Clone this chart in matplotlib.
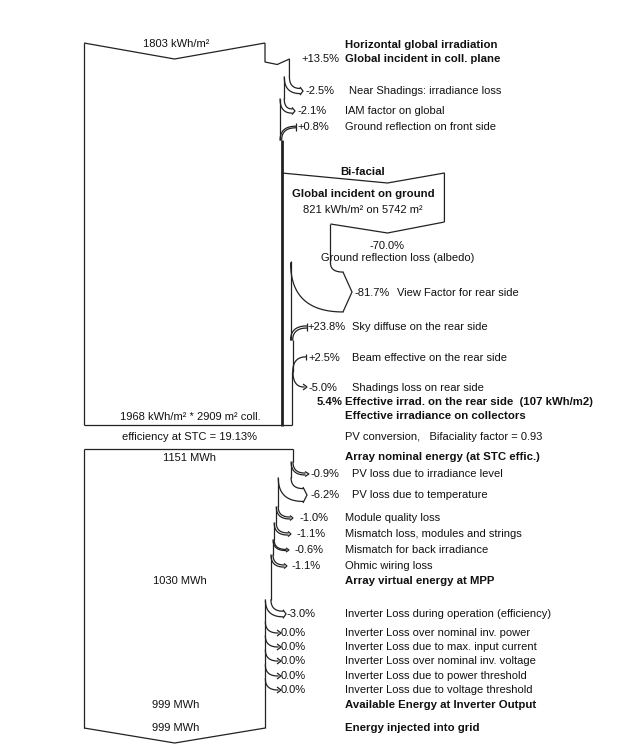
import numpy as np
import matplotlib
matplotlib.use("Agg")
import matplotlib.pyplot as plt

# ---------------- data ----------------
horiz_irr = 1803          # kWh/m2
front_pct = [13.5, -2.5, -2.1, 0.8]
front_labels = ["Global incident in coll. plane", "Near Shadings: irradiance loss",
                "IAM factor on global", "Ground reflection on front side"]
ground_irr = 821          # kWh/m2
ground_area = 5742        # m2
rear_pct = [-70.0, -81.7, 23.8, 2.5, -5.0]
rear_labels = ["Ground reflection loss (albedo)", "View Factor for rear side",
               "Sky diffuse on the rear side", "Beam effective on the rear side",
               "Shadings loss on rear side"]
rear_gain_pct = 5.4
rear_irr = 107
eff_irr = 1968
coll_area = 2909
stc_eff = 19.13
bifaciality = 0.93
nominal_energy = 1151     # MWh
array_pct = [-0.9, -6.2, -1.0, -1.1, -0.6, -1.1]
array_labels = ["PV loss due to irradiance level", "PV loss due to temperature",
                "Module quality loss", "Mismatch loss, modules and strings",
                "Mismatch for back irradiance", "Ohmic wiring loss"]
mpp_energy = 1030
inv_pct = [-3.0, 0.0, 0.0, 0.0, 0.0, 0.0]
inv_labels = ["Inverter Loss during operation (efficiency)",
              "Inverter Loss over nominal inv. power",
              "Inverter Loss due to max. input current",
              "Inverter Loss over nominal inv. voltage",
              "Inverter Loss due to power threshold",
              "Inverter Loss due to voltage threshold"]
inv_out_energy = 999
grid_energy = 999

# ---------------- layout (pixels) ----------------
FONT = "Liberation Sans"
FS = 8.0
FSB = 8.2
LC = "#222222"
LW = 0.9
TC = "#111111"
X0 = 84                   # left edge of the flow
W_TOP = 181               # width of the 1803 kWh/m2 arrow
W_LOW = 209               # width of the 1151 MWh box
LABEL_X = 345

fig = plt.figure(figsize=(6.44, 7.5), dpi=100)
ax = fig.add_axes([0, 0, 1, 1])
ax.set_xlim(0, 644)
ax.set_ylim(750, 0)
ax.axis("off")


def line(xs, ys, lw=LW):
    ax.plot(xs, ys, color=LC, lw=lw, solid_capstyle="butt", solid_joinstyle="miter")


def bez(p0, p1, p2, lw=LW):
    t = np.linspace(0, 1, 30)[:, None]
    p0, p1, p2 = map(np.array, (p0, p1, p2))
    p = (1 - t) ** 2 * p0 + 2 * (1 - t) * t * p1 + t ** 2 * p2
    ax.plot(p[:, 0], p[:, 1], color=LC, lw=lw)


def txt(x, y, s, ha="left", bold=False):
    ax.text(x, y, s, ha=ha, va="center", fontsize=FSB if bold else FS, family=FONT,
            fontweight="bold" if bold else "normal", color=TC)


def loss_arrow(x_old, x_new, y_s, y_t, x_e, head=4, flare=2):
    w = x_old - x_new
    if w < 0.8:
        bez((x_old, y_s), (x_old, y_t), (x_e, y_t))
        line([x_e - 1, x_e + head, x_e - 1], [y_t - 3, y_t, y_t + 3])
        return
    bez((x_old, y_s), (x_old, y_t - w / 2), (x_e, y_t - w / 2))
    bez((x_new, y_s), (x_new, y_t + w / 2), (x_e, y_t + w / 2))
    line([x_e, x_e + head, x_e], [y_t - w / 2 - flare, y_t, y_t + w / 2 + flare])


def gain_arrow(x_old, x_new, y_t, x_e, y_j):
    w = x_new - x_old
    bez((x_e, y_t - w / 2), (x_old, y_t - w / 2), (x_old, y_j))
    if w >= 0.8:
        bez((x_e, y_t + w / 2), (x_new, y_t + w / 2), (x_new, y_j))
    line([x_e, x_e], [y_t - w / 2 - 3, y_t + w / 2 + 3])


# ================= upper part : irradiation =================
s_up = W_TOP / horiz_irr
x_top_r = X0 + W_TOP
y_top = 43
# top arrow (V shaped)
line([X0, X0 + W_TOP / 2, x_top_r], [y_top, y_top + 16, y_top])
txt(X0 + W_TOP / 2 + 2, 44, f"{horiz_irr} kWh/m²", ha="center")
txt(LABEL_X, 45, "Horizontal global irradiation", bold=True)

front_y = [59, 91, 111, 127]
front_ys = [None, 77, 99, None]
front_xe = [None, 300, 292, 296]
front_pct_x = [339, 306, 298, 297]

val = horiz_irr
x_cur = x_top_r
y_cur = y_top
for i, p in enumerate(front_pct):
    new_val = val * (1 + p / 100)
    x_new = X0 + new_val * s_up
    lab = f"{p:+.1f}%"
    if i == 0:
        # incoming gain notch
        line([x_cur, x_cur, (x_cur + x_new) / 2, x_new, x_new],
             [y_cur, 62, 64.5, 59, 77])
        txt(front_pct_x[i], front_y[i], lab, ha="right")
        txt(LABEL_X, front_y[i], front_labels[i], bold=True)
        y_cur = 77
    elif p < 0:
        line([x_cur, x_cur], [y_cur, front_ys[i]])
        loss_arrow(x_cur, x_new, front_ys[i], front_y[i], front_xe[i], head=3, flare=1.5)
        txt(front_pct_x[i], front_y[i], lab)
        txt(LABEL_X + (4 if i == 1 else 0), front_y[i], front_labels[i])
        y_cur = front_ys[i]
    else:
        line([x_cur, x_cur], [y_cur, 140])
        gain_arrow(x_cur, x_new, front_y[i], front_xe[i], 140)
        txt(front_pct_x[i], front_y[i], lab)
        txt(LABEL_X, front_y[i], front_labels[i])
        y_cur = 140
    val = new_val
    x_cur = x_new
x_front = x_cur
front_width = x_front - X0

# front trunk (thick) down to the box bottom
Y_BOX1 = 425
line([x_front, x_front], [140, Y_BOX1 + 1], lw=2.0)
# left edge of upper box
line([X0, X0], [y_top, Y_BOX1])

# ---- bifacial contribution ----
front_energy = eff_irr * coll_area
ground_energy = ground_irr * ground_area
w_ground = front_width * ground_energy / front_energy
x_g_r = x_front + w_ground
x_alb = x_front + w_ground * (1 + rear_pct[0] / 100)
x_vtip = (x_alb + x_g_r) / 2
y_bt = 173
line([x_front, x_vtip, x_g_r, x_g_r], [y_bt, y_bt + 10, y_bt, 222])
txt((x_front + x_g_r) / 2, 172, "Bi-facial", ha="center", bold=True)
txt((x_front + x_g_r) / 2, 194, "Global incident on ground", ha="center", bold=True)
txt((x_front + x_g_r) / 2, 210, f"{ground_irr} kWh/m² on {ground_area} m²", ha="center")

# -70% albedo loss : V shaped bottom
line([x_g_r, x_vtip, x_alb], [222, 233, 224])
txt(x_vtip, 246, f"{rear_pct[0]:.1f}%", ha="center")
txt(398, 258, rear_labels[0], ha="center")

# -81.7% view factor loss
x_vf = x_front + (x_alb - x_front) * (1 + rear_pct[1] / 100)
line([x_alb, x_alb], [224, 263])
loss_arrow(x_alb, x_vf, 263, 292, 343, head=9, flare=0)
txt(355, 293, f"{rear_pct[1]:.1f}%")
txt(397, 293, rear_labels[1])

# rear gains and losses
x_cur = x_vf
w_rear = x_vf - x_front
line([x_cur, x_cur], [261, 340])
# +23.8 sky diffuse
x_new = x_cur + w_rear * rear_pct[2] / 100
gain_arrow(x_cur, x_new, 327, 307, 340)
txt(307, 327, f"{rear_pct[2]:+.1f}%")
txt(352, 327, rear_labels[2])
w_rear = x_new - x_front
x_cur = x_new
line([x_cur, x_cur], [340, 372])
# +2.5 beam
x_new = x_cur + w_rear * rear_pct[3] / 100
gain_arrow(x_cur, x_new, 357, 306, 372)
txt(308, 358, f"{rear_pct[3]:+.1f}%")
txt(352, 358, rear_labels[3])
w_rear = x_new - x_front
x_cur = x_new
# -5.0 shading
x_new = x_cur + w_rear * rear_pct[4] / 100
loss_arrow(x_cur, x_new, 372, 387, 304, head=3, flare=1.5)
txt(309, 388, f"{rear_pct[4]:.1f}%")
txt(352, 388, rear_labels[4])
x_rear = x_new
line([x_rear, x_rear], [372, Y_BOX1])
line([X0, x_rear], [Y_BOX1, Y_BOX1])

txt(342, 402, f"{rear_gain_pct:.1f}%", ha="right", bold=True)
txt(LABEL_X, 402, f"Effective irrad. on the rear side  ({rear_irr} kWh/m2)", bold=True)
txt(LABEL_X, 416, "Effective irradiance on collectors", bold=True)
txt(190, 417, f"{eff_irr} kWh/m² * {coll_area} m² coll.", ha="center")
txt(190, 437, f"efficiency at STC = {stc_eff:.2f}%", ha="center")
txt(LABEL_X, 437, f"PV conversion,   Bifaciality factor = {bifaciality:.2f}")

# ================= lower part : energy =================
s_lo = W_LOW / nominal_energy
Y_BOX2 = 449
x_cur = X0 + W_LOW
line([X0, x_cur], [Y_BOX2, Y_BOX2])
txt(190, 458, f"{nominal_energy} MWh", ha="center")
txt(LABEL_X, 457, "Array nominal energy (at STC effic.)", bold=True)

array_y = [474, 495, 518, 534, 550, 566]
array_ys = [462, 478, 507, 523, 540, 555]
array_xe = [305, 303, 290, 288, 286, 284]
array_pct_x = [311, 311, 300, 297, 295, 292]
array_lab_x = [352, 352, 345, 345, 345, 345]
val = nominal_energy
y_cur = Y_BOX2
for i, p in enumerate(array_pct):
    new_val = val * (1 + p / 100)
    x_new = X0 + new_val * s_lo
    line([x_cur, x_cur], [y_cur, array_ys[i]])
    loss_arrow(x_cur, x_new, array_ys[i], array_y[i], array_xe[i],
               head=4 if i < 2 else 3, flare=1.5)
    txt(array_pct_x[i], array_y[i], f"{p:.1f}%")
    txt(array_lab_x[i], array_y[i], array_labels[i])
    val, x_cur, y_cur = new_val, x_new, array_ys[i]

txt(180, 581, f"{mpp_energy} MWh", ha="center")
txt(LABEL_X, 581, "Array virtual energy at MPP", bold=True)

inv_y = [614, 633, 647, 661, 676, 690]
inv_ys = [600, 622, 636, 650, 665, 679]
inv_xe = [283, 278, 278, 278, 278, 278]
inv_pct_x = [287, 281, 281, 281, 281, 281]
for i, p in enumerate(inv_pct):
    new_val = val * (1 + p / 100)
    x_new = X0 + new_val * s_lo
    line([x_cur, x_cur], [y_cur, inv_ys[i]])
    loss_arrow(x_cur, x_new, inv_ys[i], inv_y[i], inv_xe[i], head=3, flare=1.5)
    lab = f"{p:.1f}%" if p != 0 else "0.0%"
    txt(inv_pct_x[i], inv_y[i], lab)
    txt(LABEL_X, inv_y[i], inv_labels[i])
    val, x_cur, y_cur = new_val, x_new, inv_ys[i]

Y_BOT = 728
line([x_cur, x_cur], [y_cur, Y_BOT])
line([X0, X0], [Y_BOX2, Y_BOT])
line([X0, (X0 + x_cur) / 2, x_cur], [Y_BOT, Y_BOT + 15, Y_BOT])

txt(176, 705, f"{inv_out_energy} MWh", ha="center")
txt(LABEL_X, 705, "Available Energy at Inverter Output", bold=True)
txt(176, 728, f"{grid_energy} MWh", ha="center")
txt(LABEL_X, 728, "Energy injected into grid", bold=True)

fig.savefig("out.png", dpi=100)
